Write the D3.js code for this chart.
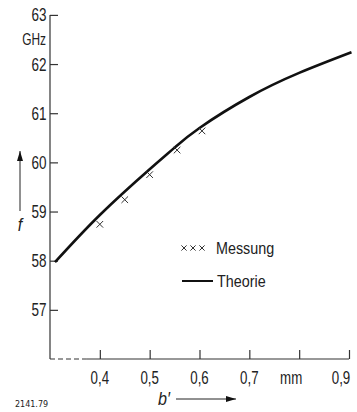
<!DOCTYPE html>
<html>
<head>
<meta charset="utf-8">
<script src="https://cdn.jsdelivr.net/npm/d3@7"></script>
<style>
  body { margin: 0; background: #fff; }
  svg { display: block; }
  text { font-family: "Liberation Sans", "Arial", sans-serif; fill: #222; }
  .axis path, .axis line { stroke: #333; stroke-width: 1.2; }
  .theory { fill: none; stroke: #111; stroke-width: 2.6; }
  .cross { stroke: #333; stroke-width: 1; }
</style>
</head>
<body>
<script>
// measured points (b' in mm, f in GHz)
var measuredB = [0.4, 0.45, 0.5, 0.555, 0.605];
var measuredF = [58.74, 59.24, 59.75, 60.25, 60.64];

// theory curve
var theoryB = [0.31, 0.4, 0.5, 0.55, 0.6, 0.7, 0.8, 0.905];
var theoryF = [57.97, 58.93, 59.86, 60.3, 60.7, 61.33, 61.82, 62.24];

var yTicks = [57, 58, 59, 60, 61, 62, 63];
var xTicks = [0.4, 0.5, 0.6, 0.7, 0.8, 0.9];
var xTickLabels = ["0,4", "0,5", "0,6", "0,7", "mm", "0,9"];

var WIDTH = 357;
var HEIGHT = 412;

var xScale = d3.scaleLinear()
    .domain([0.3, 0.9])
    .range([50, 349]);

var yScale = d3.scaleLinear()
    .domain([56, 63])
    .range([359, 14.9]);

var svg = d3.select('body').append('svg')
    .attr('width', WIDTH)
    .attr('height', HEIGHT);

// condensed text: the original lettering is a narrow DIN face
var label = function (parent, x, y, txt, size, sx, anchor) {
    return parent.append('text')
        .attr('transform', 'translate(' + x + ',' + y + ') scale(' + sx + ',1)')
        .attr('dy', '0.36em')
        .attr('text-anchor', anchor || 'start')
        .style('font-size', size + 'px')
        .text(txt);
};

// left axis: ticks pointing inward
var yAxis = d3.axisLeft(yScale)
    .tickValues(yTicks)
    .tickSize(-8)
    .tickFormat('');

var yG = svg.append('g')
    .attr('class', 'axis')
    .attr('transform', 'translate(50,0)')
    .call(yAxis);
yG.select('.domain').remove();
yG.append('line')
    .attr('x1', 0).attr('x2', 0)
    .attr('y1', yScale(63)).attr('y2', yScale(56));

var yLabG = svg.append('g');
yTicks.forEach(function (d) {
    label(yLabG, 46.5, yScale(d), d, 18, 0.75, 'end');
});
label(svg, 46, 39, 'GHz', 17, 0.7, 'end');

// bottom axis: ticks pointing inward, dashed near the origin
var xAxis = d3.axisBottom(xScale)
    .tickValues(xTicks)
    .tickSize(-9)
    .tickFormat('');

var xG = svg.append('g')
    .attr('class', 'axis')
    .attr('transform', 'translate(0,359)')
    .call(xAxis);
xG.select('.domain').remove();
xG.append('line')
    .attr('x1', xScale(0.3)).attr('x2', xScale(0.374))
    .attr('y1', 0).attr('y2', 0)
    .attr('stroke-dasharray', '5,3');
xG.append('line')
    .attr('x1', xScale(0.374)).attr('x2', xScale(0.9))
    .attr('y1', 0).attr('y2', 0);

var xLabG = svg.append('g');
xTicks.forEach(function (d, i) {
    var x = xScale(d);
    if (xTickLabels[i] === 'mm') x -= 8;
    if (i === xTicks.length - 1) x -= 8;
    label(xLabG, x, 378, xTickLabels[i], 18, 0.74, 'middle');
});

// axis names with arrows
svg.append('defs').append('marker')
    .attr('id', 'arrow')
    .attr('viewBox', '0 0 10 6')
    .attr('refX', 10).attr('refY', 3)
    .attr('markerWidth', 10).attr('markerHeight', 6)
    .attr('markerUnits', 'userSpaceOnUse')
    .attr('orient', 'auto')
    .append('path')
    .attr('d', 'M0,0 L10,3 L0,6 Z')
    .attr('fill', '#111');

label(svg, 158, 398, 'b\u2032', 19, 0.85).style('font-style', 'italic');
svg.append('line')
    .attr('x1', 176).attr('x2', 236)
    .attr('y1', 399).attr('y2', 399)
    .attr('stroke', '#222').attr('stroke-width', 1)
    .attr('marker-end', 'url(#arrow)');

label(svg, 20, 224, 'f', 19, 0.85, 'middle').style('font-style', 'italic');
svg.append('line')
    .attr('x1', 20).attr('x2', 20)
    .attr('y1', 211).attr('y2', 151)
    .attr('stroke', '#222').attr('stroke-width', 1)
    .attr('marker-end', 'url(#arrow)');

// theory line
var line = d3.line()
    .curve(d3.curveNatural)
    .x(function (d) { return xScale(d[0]); })
    .y(function (d) { return yScale(d[1]); });

svg.append('path')
    .attr('class', 'theory')
    .attr('d', line(d3.zip(theoryB, theoryF)));

// measured crosses
var drawCross = function (g, cx, cy, r) {
    g.append('path')
        .attr('class', 'cross')
        .attr('d', 'M' + (cx - r) + ',' + (cy - r) + 'L' + (cx + r) + ',' + (cy + r) +
                   'M' + (cx - r) + ',' + (cy + r) + 'L' + (cx + r) + ',' + (cy - r));
};

var crossG = svg.append('g');
d3.zip(measuredB, measuredF).forEach(function (p) {
    drawCross(crossG, xScale(p[0]), yScale(p[1]), 3.3);
});

// legend
var legendG = svg.append('g');
[184, 193, 202].forEach(function (x) { drawCross(legendG, x, 248, 2.6); });
label(legendG, 216, 248, 'Messung', 16.5, 0.87);
legendG.append('line')
    .attr('x1', 182).attr('x2', 213)
    .attr('y1', 281).attr('y2', 281)
    .attr('stroke', '#111').attr('stroke-width', 2);
label(legendG, 217, 281, 'Theorie', 16.5, 0.87);

// figure number
svg.append('text')
    .attr('x', 15)
    .attr('y', 407)
    .style('font-family', '"DejaVu Sans", sans-serif')
    .style('font-size', '8px')
    .text('2141.79');
</script>
</body>
</html>
